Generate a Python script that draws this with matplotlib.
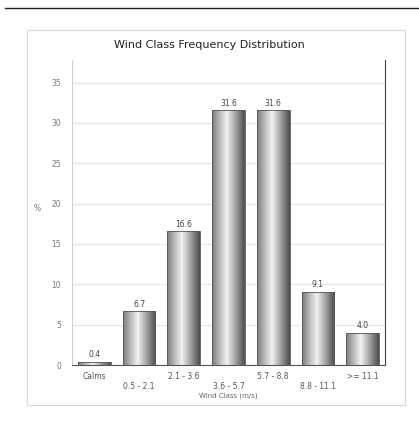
import numpy as np
import matplotlib
matplotlib.use("Agg")
import matplotlib.pyplot as plt
from matplotlib.patches import Rectangle
from matplotlib.colors import LinearSegmentedColormap

classes = ["Calms", "0.5 - 2.1", "2.1 - 3.6", "3.6 - 5.7", "5.7 - 8.8", "8.8 - 11.1", ">= 11.1"]
freq = [0.4, 6.7, 16.6, 31.6, 31.6, 9.1, 4.0]

W, H = 419, 423
fig = plt.figure(figsize=(W / 100, H / 100), dpi=100)
fig.patch.set_facecolor("white")

# scanned page decorations: top rule and outer chart frame
fig.add_artist(plt.Line2D([5 / W, 1], [1 - 8 / H, 1 - 8 / H], color="#222222", lw=1.0))
fig.add_artist(Rectangle((27 / W, 1 - 405 / H), 378 / W, 375 / H, fill=False,
                         ec="#d8d8d8", lw=0.8))

ax = fig.add_axes([72 / W, 1 - 365 / H, 313 / W, 305 / H])
ax.set_xlim(-0.5, len(classes) - 0.5)
ax.set_ylim(0, 37.8)

# cylinder-like grey shading
cyl = LinearSegmentedColormap.from_list(
    "cyl", [(0, "#7c7c7c"), (0.2, "#b4b4b4"), (0.45, "#f2f2f2"), (0.7, "#a8a8a8"), (1, "#4e4e4e")])
grad = np.linspace(0, 1, 64).reshape(1, -1)

x = np.arange(len(classes))
bars = ax.bar(x, freq, width=0.73, color="none", edgecolor="#555555", lw=0.6, zorder=3)
for b in bars:
    bx, by = b.get_x(), b.get_y()
    im = ax.imshow(grad, cmap=cyl, aspect="auto", zorder=2,
                   extent=[bx, bx + b.get_width(), by, by + b.get_height()])
    im.set_clip_path(b)

for xi, v in zip(x, freq):
    ax.text(xi, v + 0.3, f"{v:.1f}", ha="center", va="bottom", fontsize=5.5, color="#444444")

ax.set_yticks(range(0, 36, 5))
ax.yaxis.grid(True, color="#e4e4e4", lw=0.8)
ax.set_axisbelow(True)
ax.tick_params(axis="y", labelsize=5.5, labelcolor="#777777", length=0, pad=8)
ax.set_xticks(x)
ax.set_xticklabels([])
ax.tick_params(axis="x", length=0)
for xi, lab in zip(x, classes):
    off = -0.9 if xi % 2 == 0 else -2.1
    ax.text(xi, off, lab, ha="center", va="top", fontsize=5.5, color="#555555")

ax.text(3, -3.4, "Wind Class (m/s)", ha="center", va="top", fontsize=5, color="#666666")
ax.set_ylabel("%", fontsize=5.5, color="#777777", rotation=0, labelpad=10)
fig.text(0.5, 1 - 45 / H, "Wind Class Frequency Distribution", ha="center", va="center",
         fontsize=8, color="#222222")

ax.spines["top"].set_visible(False)
ax.spines["left"].set_color("#d0d0d0")
ax.spines["bottom"].set_color("#555555")
ax.spines["right"].set_color("#444444")
ax.spines["right"].set_linestyle((0, (1, 1)))

fig.savefig("out.png", dpi=100)
